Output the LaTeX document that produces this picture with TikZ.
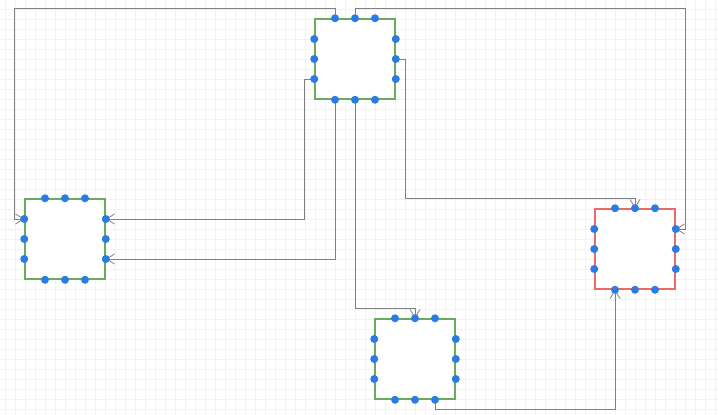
\documentclass[tikz,border=0pt]{standalone}
\usetikzlibrary{arrows.meta,calc}
\pgfdeclarelayer{bg}
\pgfdeclarelayer{grid}
\pgfsetlayers{grid,bg,main}
\definecolor{gridc}{HTML}{F2F2F2}
\definecolor{boxgreen}{HTML}{67AB5B}
\definecolor{boxred}{HTML}{EA6B66}
\definecolor{dotblue}{HTML}{2A7BE4}
\definecolor{connc}{HTML}{808080}
\tikzset{
  shapebox/.style={draw=#1, line width=1.5pt, fill=white, minimum width=80pt, minimum height=80pt, inner sep=0pt, rectangle},
  portdot/.style={circle, fill=dotblue, minimum size=8pt, inner sep=0pt},
  conn/.style={draw=connc, line width=0.9pt, -{Straight Barb[length=8pt,width=10pt,line width=0.8pt]}},
}
\newcommand{\portbox}[4]{%
  \node[shapebox=#4] (#1) at (#2,#3) {};
  \node[portdot] (#1-t1) at ($(#1.north)+(-20,0)$) {};
  \node[portdot] (#1-t2) at (#1.north) {};
  \node[portdot] (#1-t3) at ($(#1.north)+(20,0)$) {};
  \node[portdot] (#1-b1) at ($(#1.south)+(-20,0)$) {};
  \node[portdot] (#1-b2) at (#1.south) {};
  \node[portdot] (#1-b3) at ($(#1.south)+(20,0)$) {};
  \node[portdot] (#1-l1) at ($(#1.west)+(0,-20)$) {};
  \node[portdot] (#1-l2) at (#1.west) {};
  \node[portdot] (#1-l3) at ($(#1.west)+(0,20)$) {};
  \node[portdot] (#1-r1) at ($(#1.east)+(0,-20)$) {};
  \node[portdot] (#1-r2) at (#1.east) {};
  \node[portdot] (#1-r3) at ($(#1.east)+(0,20)$) {};
}
\begin{document}
\begin{tikzpicture}[x=1pt,y=-1pt]
\useasboundingbox (0,0) rectangle (718,415);
\begin{pgfonlayer}{grid}
  \fill[white] (0,0) rectangle (718,415);
  \foreach \gx in {5,15,...,715} \draw[gridc, line width=1pt] (\gx,0) -- (\gx,415);
  \foreach \gy in {9,19,...,409} \draw[gridc, line width=1pt] (0,\gy) -- (718,\gy);
\end{pgfonlayer}
\portbox{T}{355}{59}{boxgreen}
\portbox{L}{65}{239}{boxgreen}
\portbox{R}{635}{249}{boxred}
\portbox{B}{415}{359}{boxgreen}
\begin{pgfonlayer}{bg}
  \draw[conn] (T-t1.center) -- ++(0,-10) -| ([xshift=-10pt]L-l1.center) -- (L-l1.center);
  \draw[conn] (T-t2.center) -- ++(0,-10) -| ([xshift=10pt]R-r1.center) -- (R-r1.center);
  \draw[conn] (T-l3.center) -- ++(-10,0) |- (L-r1.center);
  \draw[conn] (T-b1.center) |- (L-r3.center);
  \draw[conn] (T-r2.center) -- ++(10,0) |- ([yshift=10pt]R-t2.center) -- (R-t2.center);
  \draw[conn] (T-b2.center) |- ([yshift=10pt]B-t2.center) -- (B-t2.center);
  \draw[conn] (B-b3.center) -- ++(0,10) -| (R-b1.center);
\end{pgfonlayer}
\end{tikzpicture}
\end{document}
